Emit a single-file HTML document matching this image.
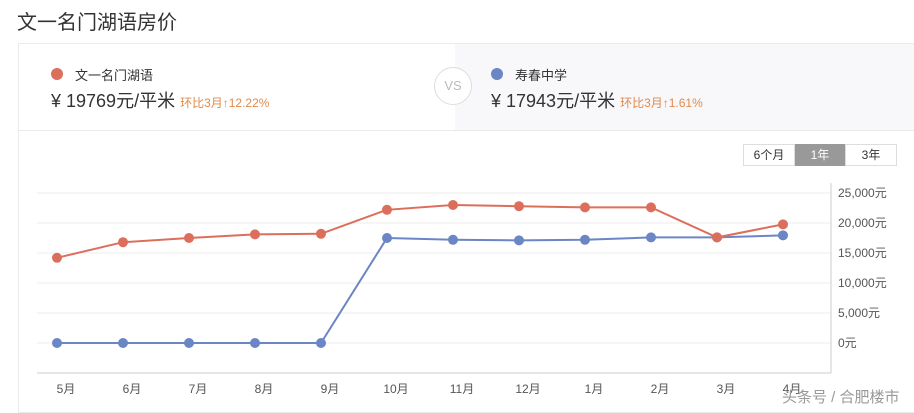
<!DOCTYPE html>
<html><head><meta charset="utf-8">
<style>
body{margin:0;width:914px;height:410px;background:#fff;font-family:"Liberation Sans","Noto Sans CJK SC",sans-serif;position:relative;overflow:hidden;color:#333}
.abs{position:absolute}
</style></head><body>
<div class="abs" style="left:17px;top:6px;font-size:20px;color:#333">文一名门湖语房价</div>
<div class="abs" style="left:18px;top:43px;width:900px;height:370px;border:1px solid #ebebeb;box-sizing:border-box"></div>
<div class="abs" style="left:455px;top:44px;width:459px;height:86px;background:#f8f7fa"></div>
<div class="abs" style="left:19px;top:130px;width:895px;height:1px;background:#ebebeb"></div>
<div class="abs" style="left:434px;top:67px;width:36px;height:36px;border:1px solid #ddd;border-radius:50%;background:#fff;text-align:center;line-height:36px;font-size:13px;color:#bbb">VS</div>
<div class="abs" style="left:51px;top:68px;width:12px;height:12px;border-radius:50%;background:#dc6f5b"></div>
<div class="abs" style="left:75px;top:65px;font-size:13px">文一名门湖语</div>
<div class="abs" style="left:51px;top:87px;font-size:18px;color:#333">¥ 19769元/平米 <span style="font-size:12px;color:#e08a4c">环比3月↑12.22%</span></div>
<div class="abs" style="left:491px;top:68px;width:12px;height:12px;border-radius:50%;background:#6b86c4"></div>
<div class="abs" style="left:515px;top:65px;font-size:13px">寿春中学</div>
<div class="abs" style="left:491px;top:87px;font-size:18px;color:#333">¥ 17943元/平米 <span style="font-size:12px;color:#e08a4c">环比3月↑1.61%</span></div>
<div class="abs" style="left:743px;top:144px;width:52px;height:22px;border:1px solid #ddd;box-sizing:border-box;font-size:12px;text-align:center;line-height:20px">6个月</div>
<div class="abs" style="left:795px;top:144px;width:50px;height:22px;background:#999;color:#fff;font-size:12px;text-align:center;line-height:22px">1年</div>
<div class="abs" style="left:845px;top:144px;width:52px;height:22px;border:1px solid #ddd;box-sizing:border-box;font-size:12px;text-align:center;line-height:20px">3年</div>
<svg class="abs" style="left:0;top:0" width="914" height="410" id="chart"></svg>
<div class="abs" style="left:782px;top:386px;font-size:15px;color:#999">头条号 / 合肥楼市</div>
<script>
const months=["5月","6月","7月","8月","9月","10月","11月","12月","1月","2月","3月","4月"];
const wenyi=[14200,16800,17500,18100,18200,22200,23000,22800,22600,22600,17600,19769];
const shouchun=[0,0,0,0,0,17500,17200,17100,17200,17600,17600,17943];
const yTicks=[0,5000,10000,15000,20000,25000];
const yLabels=["0元","5,000元","10,000元","15,000元","20,000元","25,000元"];
const svg=document.getElementById('chart');
const NS='http://www.w3.org/2000/svg';
const x=i=>57+i*66;
const y=v=>343-v/5000*30;
function mk(t,a){const e=document.createElementNS(NS,t);for(const k in a)e.setAttribute(k,a[k]);svg.appendChild(e);return e;}
yTicks.forEach((v,i)=>{
 const g=mk('line',{x1:37,x2:831,y1:y(v),y2:y(v),stroke:'#eeeeee'});
 
 
 const t=mk('text',{x:838,y:y(v)+4,'font-size':12,fill:'#555','font-family':'Liberation Sans, Noto Sans CJK SC, sans-serif'});
 t.textContent=yLabels[i];
 
 
});
const ax=mk('line',{x1:831,x2:831,y1:183,y2:373,stroke:'#ccc'});


const bx=mk('line',{x1:37,x2:831,y1:373,y2:373,stroke:'#ccc'});


months.forEach((m,i)=>{
 const t=mk('text',{x:x(i)+9,y:393,'font-size':12,fill:'#555','text-anchor':'middle','font-family':'Liberation Sans, Noto Sans CJK SC, sans-serif'});
 t.textContent=m;
 
 
});
function series(data,color,name){
 const p=mk('polyline',{points:data.map((v,i)=>x(i)+','+y(v)).join(' '),fill:'none',stroke:color,'stroke-width':2});
 
 
 data.forEach((v,i)=>{
  const c=mk('circle',{cx:x(i),cy:y(v),r:5,fill:color});
  
  
 });
}
series(shouchun,'#6b86c4','shouchun');
series(wenyi,'#dc6f5b','wenyi');
</script>
</body></html>
